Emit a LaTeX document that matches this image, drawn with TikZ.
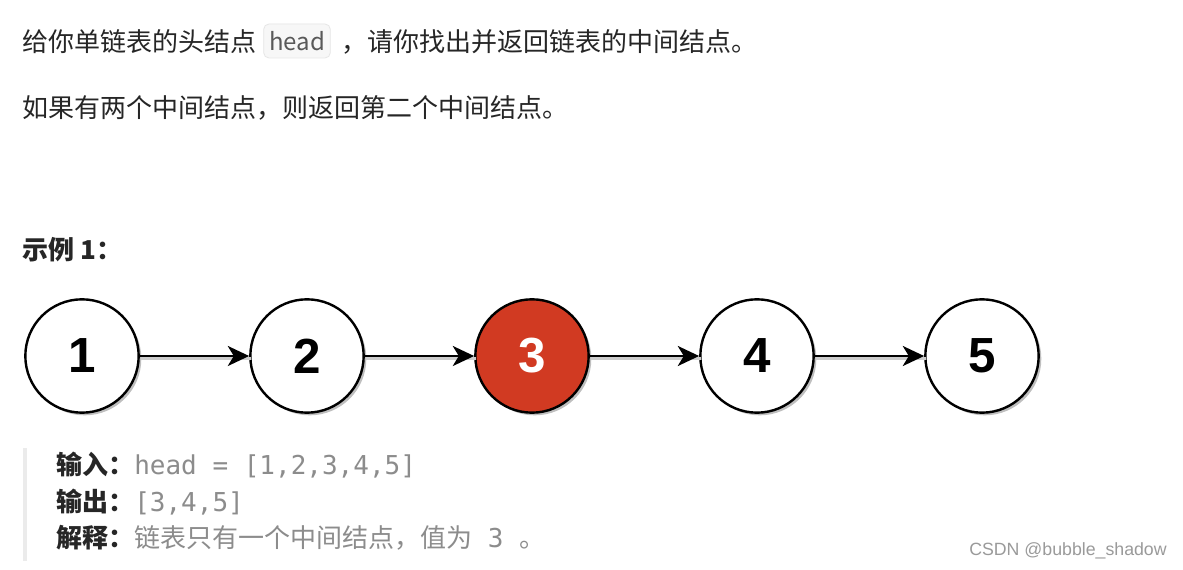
\documentclass[tikz,border=0pt]{standalone}
\usepackage{fontspec}
\setmainfont{Noto Sans CJK SC}
\newfontfamily\mono{DejaVu Sans Mono}
\newfontfamily\arial{Liberation Sans}
\usetikzlibrary{arrows.meta,shadows}
\definecolor{txt}{HTML}{262626}
\definecolor{val}{HTML}{8C8C8C}
\definecolor{codefg}{HTML}{595959}
\definecolor{codebg}{HTML}{F7F7F7}
\definecolor{codebd}{HTML}{E6E6E6}
\definecolor{nodered}{HTML}{D13A22}
\definecolor{barc}{HTML}{EBEBEB}
\definecolor{wm}{HTML}{9A9A9A}
\begin{document}
\begin{tikzpicture}[x=0.75pt,y=-0.75pt,
  body/.style={anchor=west,inner sep=0pt,text=txt,font=\fontsize{19.5pt}{23pt}\selectfont},
  codebox/.style={draw=codebd,fill=codebg,rounded corners=4pt,line width=0.6pt,
    minimum width=50pt,minimum height=25.5pt,inner sep=0pt,text=codefg,
    font=\fontsize{18pt}{21pt}\selectfont},
  lnode/.style={circle,draw=black,line width=1.8pt,minimum size=85pt,inner sep=0pt,
    fill=white,font=\arial\bfseries\fontsize{37pt}{40pt}\selectfont,
    drop shadow={shadow xshift=2pt,shadow yshift=-2pt,opacity=0.25,fill=black}},
  rednode/.style={lnode,fill=nodered,text=white},
  link/.style={line width=2pt,-{Stealth[length=16pt,width=15pt,inset=4.5pt]},
    preaction={draw=black!20,line width=2pt,transform canvas={shift={(1.2pt,-1.8pt)}},-}},
  qline/.style={anchor=west,inner sep=0pt,font=\fontsize{19.5pt}{23pt}\selectfont},
  wmark/.style={anchor=center,inner sep=0pt,text=wm,font=\arial\fontsize{13.3pt}{16pt}\selectfont}
]
\useasboundingbox (0,0) rectangle (1183,570);
\fill[white] (0,0) rectangle (1183,570);

% line 1
\node[body] (t1a) at (22,42) {给你单链表的头结点};
\node[codebox] (code) at (297,41) {head};
\node[body] (t1b) at (341,42) {，请你找出并返回链表的中间结点。};
% line 2
\node[body] (t2) at (22,108) {如果有两个中间结点，则返回第二个中间结点。};
% example title
\node[body,font=\bfseries\fontsize{19.5pt}{23pt}\selectfont] (ex) at (22,250) {示例 1：};

% linked list
\node[lnode] (n1) at (82,356) {1};
\node[lnode] (n2) at (307,356) {2};
\node[rednode] (n3) at (532,356) {3};
\node[lnode] (n4) at (757,356) {4};
\node[lnode] (n5) at (982,356) {5};
\draw[link] (n1) -- (n2);
\draw[link] (n2) -- (n3);
\draw[link] (n3) -- (n4);
\draw[link] (n4) -- (n5);

% blockquote
\fill[barc] (23,448) rectangle (27,561);
\node[qline] (q1) at (56,465) {{\bfseries\color{txt}输入：}{\mono\color{val}head = [1,2,3,4,5]}};
\node[qline] (q2) at (56,502) {{\bfseries\color{txt}输出：}{\mono\color{val}[3,4,5]}};
\node[qline] (q3) at (56,538) {{\bfseries\color{txt}解释：}{\color{val}链表只有一个中间结点，值为{\mono{} 3 }。}};

% watermark
\node[wmark] (wmk) at (1068,551) {CSDN @bubble\_shadow};
\end{tikzpicture}
\end{document}
